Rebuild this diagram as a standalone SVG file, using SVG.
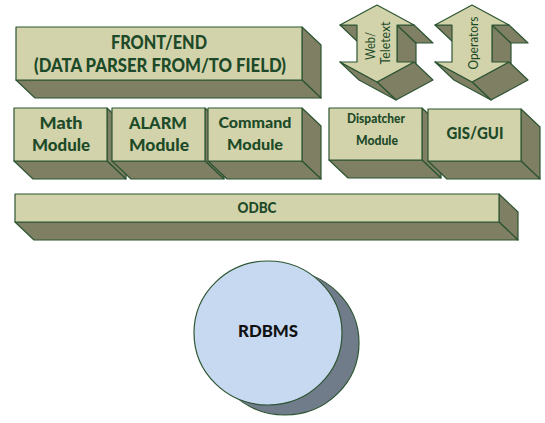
<svg xmlns="http://www.w3.org/2000/svg" width="545" height="423" viewBox="0 0 545 423">
<defs>
<style>
.f{fill:#d3d3ab;stroke:#2d5533;stroke-width:1.2;stroke-linejoin:round}
.s{fill:#7f7f64;stroke:#2d5533;stroke-width:1.2;stroke-linejoin:round}
.t{font-family:Lato,"Open Sans","Liberation Sans",sans-serif;font-weight:900;fill:#1d4a28;text-anchor:middle}
.r{font-family:Lato,"Open Sans","Liberation Sans",sans-serif;font-weight:normal;fill:#1d4a28;text-anchor:middle}
</style>
</defs>
<rect width="545" height="423" fill="#fff"/>

<g id="frontend">
<polygon class="s" points="302,27 321,45 321,98 302,80"/>
<polygon class="s" points="16,80 302,80 321,98 35,98"/>
<rect class="f" x="16" y="27" width="286" height="53"/>
<text class="t" x="159" y="49" font-size="18" textLength="96" lengthAdjust="spacingAndGlyphs">FRONT/END</text>
<text class="t" x="160" y="72" font-size="18" textLength="252" lengthAdjust="spacingAndGlyphs">(DATA PARSER FROM/TO FIELD)</text>
</g>

<g id="web-teletext">
<polygon class="s" points="340,25 357,25 376,43 359,43"/>
<polygon class="s" points="397,25 397,62 416,80 416,43"/>
<polygon class="s" points="397,25 414,25 433,43 416,43"/>
<polygon class="s" points="414,62 377,82 396,100 433,80"/>
<polygon class="s" points="340,62 377,82 396,100 359,80"/>
<polygon class="f" points="377,5 414,25 397,25 397,62 414,62 377,82 340,62 357,62 357,25 340,25"/>
<text class="r" transform="translate(375,46) rotate(-90)" font-size="12.5" textLength="28" lengthAdjust="spacingAndGlyphs">Web/</text>
<text class="r" transform="translate(390,43) rotate(-90)" font-size="12.5" textLength="43" lengthAdjust="spacingAndGlyphs">Teletext</text>
</g>

<g id="operators">
<polygon class="s" points="435,25 452,25 471,43 454,43"/>
<polygon class="s" points="492,25 492,62 511,80 511,43"/>
<polygon class="s" points="492,25 509,25 528,43 511,43"/>
<polygon class="s" points="509,62 472,82 491,100 528,80"/>
<polygon class="s" points="435,62 472,82 491,100 454,80"/>
<polygon class="f" points="472,5 509,25 492,25 492,62 509,62 472,82 435,62 452,62 452,25 435,25"/>
<text class="r" transform="translate(478,43) rotate(-90)" font-size="12.5" textLength="53" lengthAdjust="spacingAndGlyphs">Operators</text>
</g>

<g id="math">
<polygon class="s" points="107,108 126,126 126,179 107,161"/>
<polygon class="s" points="14,161 107,161 126,179 33,179"/>
<rect class="f" x="14" y="108" width="93" height="53"/>
<text class="t" x="61" y="129" font-size="17.5" textLength="43" lengthAdjust="spacingAndGlyphs">Math</text>
<text class="t" x="61" y="151" font-size="17.5" textLength="58" lengthAdjust="spacingAndGlyphs">Module</text>
</g>

<g id="alarm">
<polygon class="s" points="205,108 224,126 224,179 205,161"/>
<polygon class="s" points="112,161 205,161 224,179 131,179"/>
<rect class="f" x="112" y="108" width="93" height="53"/>
<text class="t" x="158" y="129" font-size="17.5" textLength="58" lengthAdjust="spacingAndGlyphs">ALARM</text>
<text class="t" x="159" y="151" font-size="17.5" textLength="60" lengthAdjust="spacingAndGlyphs">Module</text>
</g>

<g id="command">
<polygon class="s" points="302,108 321,126 321,179 302,161"/>
<polygon class="s" points="208,161 302,161 321,179 227,179"/>
<rect class="f" x="208" y="108" width="94" height="53"/>
<text class="t" x="255" y="128" font-size="15" textLength="73" lengthAdjust="spacingAndGlyphs">Command</text>
<text class="t" x="255" y="150" font-size="15" textLength="56" lengthAdjust="spacingAndGlyphs">Module</text>
</g>

<g id="dispatcher">
<polygon class="s" points="422,108 441,126 441,178 422,160"/>
<polygon class="s" points="329,160 422,160 441,178 348,178"/>
<rect class="f" x="329" y="108" width="93" height="52"/>
<text class="t" x="376" y="123" font-size="12.5" textLength="58" lengthAdjust="spacingAndGlyphs">Dispatcher</text>
<text class="t" x="377" y="145" font-size="12.5" textLength="42" lengthAdjust="spacingAndGlyphs">Module</text>
</g>

<g id="gisgui">
<polygon class="s" points="521,109 540,127 540,179 521,161"/>
<polygon class="s" points="428,161 521,161 540,179 447,179"/>
<rect class="f" x="428" y="109" width="93" height="52"/>
<text class="t" x="475" y="139" font-size="17.5" textLength="57" lengthAdjust="spacingAndGlyphs">GIS/GUI</text>
</g>

<g id="odbc">
<polygon class="s" points="499,194 518,212 518,240 499,222"/>
<polygon class="s" points="15,222 499,222 518,240 34,240"/>
<rect class="f" x="15" y="194" width="484" height="28"/>
<text class="t" x="257" y="213" font-size="15" textLength="39" lengthAdjust="spacingAndGlyphs">ODBC</text>
</g>

<g id="rdbms">
<ellipse cx="285" cy="343" rx="74" ry="72" fill="#717c8b" stroke="#2d5533" stroke-width="1.2"/>
<polygon points="231,395 248,405 322,281 305,271" fill="#717c8b"/>
<ellipse cx="268" cy="333" rx="74" ry="72" fill="#c6d9f0" stroke="#2d5533" stroke-width="1.2"/>
<text x="268" y="337" font-family="Lato,'Open Sans','Liberation Sans',sans-serif" font-weight="900" font-size="17.5" fill="#111" text-anchor="middle" textLength="60" lengthAdjust="spacingAndGlyphs">RDBMS</text>
</g>

<g id="connectors"></g>
</svg>
